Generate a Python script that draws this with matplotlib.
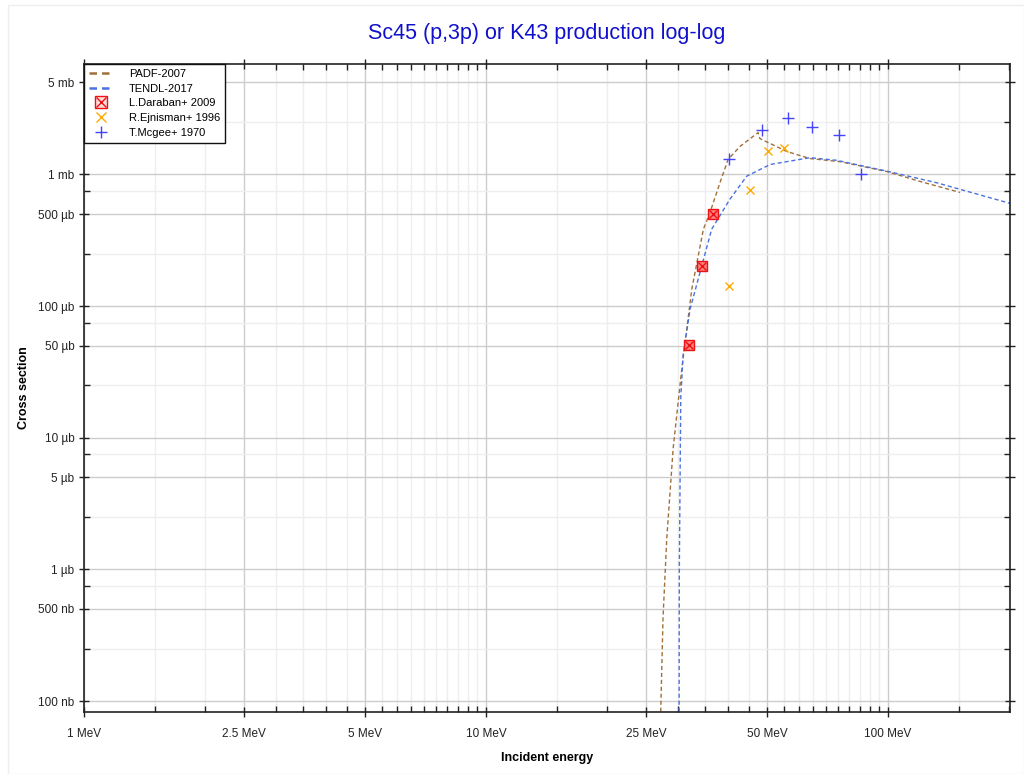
import matplotlib
matplotlib.use("Agg")
import matplotlib.pyplot as plt
from matplotlib.ticker import FixedLocator, FixedFormatter, NullFormatter
from matplotlib.legend_handler import HandlerTuple
from matplotlib.patches import Rectangle

plt.rcParams['font.family'] = ['Liberation Sans', 'DejaVu Sans']

# energies in MeV, cross sections in mb
padf_e = [27.0, 27.2, 27.55, 28.15, 29.2, 30.68, 31.57, 32.49, 34.72, 36.07, 38.2,
          40.0, 42.8, 47.5, 48.0, 56.1, 63.9, 76.0, 99.5, 120.0, 151.0]
padf_xs = [4e-5, 8.5e-5, 4.25e-4, 1.72e-3, 8.3e-3, 0.0333, 0.067, 0.1345, 0.383, 0.515, 0.87,
           1.30, 1.63, 2.08, 1.87, 1.49, 1.32, 1.25, 1.05, 0.885, 0.73]

tendl_e = [30.2, 30.25, 30.5, 30.9, 32.18, 34.4, 36.4, 40.4, 44.5, 50.9, 63.9, 74.5,
           99.2, 132.0, 201.0]
tendl_xs = [4e-5, 1e-3, 0.02, 0.042, 0.095, 0.202, 0.383, 0.647, 0.97, 1.19, 1.34, 1.28,
            1.06, 0.865, 0.603]

daraban_e = [32.05, 34.4, 36.6]
daraban_xs = [0.0507, 0.202, 0.497]

ejnisman_e = [40.2, 45.4, 50.4, 55.2]
ejnisman_xs = [0.141, 0.76, 1.50, 1.59]

mcgee_e = [40.2, 48.5, 56.5, 64.6, 75.5, 85.5]
mcgee_xs = [1.30, 2.17, 2.69, 2.30, 2.01, 1.00]

x_ticks = [1, 2.5, 5, 10, 25, 50, 100]
x_labels = ["1 MeV", "2.5 MeV", "5 MeV", "10 MeV", "25 MeV", "50 MeV", "100 MeV"]
y_ticks = [1e-4, 5e-4, 1e-3, 5e-3, 1e-2, 5e-2, 1e-1, 5e-1, 1, 5]
y_labels = ["100 nb", "500 nb", "1 µb", "5 µb", "10 µb", "50 µb", "100 µb", "500 µb",
            "1 mb", "5 mb"]

fig = plt.figure(figsize=(10.24, 7.74), dpi=100)
ax = fig.add_axes([84 / 1024, 1 - 712 / 774, 926 / 1024, 648 / 774])

# faint outer border
fig.patches.append(Rectangle((8 / 1024, 0), 1 - 8 / 1024, 1 - 5 / 774,
                             transform=fig.transFigure, fill=False,
                             edgecolor="#eeeeee", linewidth=1))

ax.set_xscale("log")
ax.set_yscale("log")
ax.set_xlim(1, 201)
ax.set_ylim(8.25e-5, 6.9)

# minor positions
x_minor = []
for d in [1, 10, 100]:
    for m in [1.5, 2, 3, 3.5, 4, 4.5, 5.5, 6, 6.5, 7, 7.5, 8, 8.5, 9, 9.5]:
        if d * m <= 201:
            x_minor.append(d * m)
y_minor = []
for d in [1e-5, 1e-4, 1e-3, 1e-2, 1e-1, 1]:
    for m in [2.5, 7.5]:
        y_minor.append(d * m)

ax.xaxis.set_major_locator(FixedLocator(x_ticks))
ax.xaxis.set_major_formatter(FixedFormatter(x_labels))
ax.xaxis.set_minor_locator(FixedLocator(x_minor))
ax.xaxis.set_minor_formatter(NullFormatter())
ax.yaxis.set_major_locator(FixedLocator(y_ticks))
ax.yaxis.set_major_formatter(FixedFormatter(y_labels))
ax.yaxis.set_minor_locator(FixedLocator(y_minor))
ax.yaxis.set_minor_formatter(NullFormatter())

ax.grid(True, which="major", color="#cccccc", linewidth=1)
ax.grid(True, which="minor", color="#eeeeee", linewidth=1)
ax.set_axisbelow(True)

ax.tick_params(which="major", direction="inout", length=7, width=1, labelsize=8.5,
               top=True, right=True, colors="#222222")
ax.tick_params(which="minor", direction="in", length=4, width=1,
               top=True, right=True, colors="#222222")
ax.tick_params(axis="x", which="major", pad=8)
for s in ax.spines.values():
    s.set_color("#222222")
    s.set_linewidth(1.2)

l1, = ax.plot(padf_e, padf_xs, linestyle=(0, (3, 2)), color="#a0703c", linewidth=1)
l2, = ax.plot(tendl_e, tendl_xs, linestyle=(0, (3, 2)), color="#4a72e0", linewidth=1)

d_sq, = ax.plot(daraban_e, daraban_xs, linestyle="none", marker="s", markersize=7,
                markerfacecolor="#ff8080", markeredgecolor="#ee1111", markeredgewidth=1)
d_x, = ax.plot(daraban_e, daraban_xs, linestyle="none", marker="x", markersize=6,
               color="#ee1111", markeredgewidth=1)
e_pts, = ax.plot(ejnisman_e, ejnisman_xs, linestyle="none", marker="x", markersize=6,
                 color="#ffaa00", markeredgewidth=1)
m_pts, = ax.plot(mcgee_e, mcgee_xs, linestyle="none", marker="+", markersize=8,
                 color="#4444ff", markeredgewidth=1)

# legend
leg_sq = plt.Line2D([], [], linestyle="none", marker="s", markersize=8,
                    markerfacecolor="#ffdddd", markeredgecolor="#ee1111")
leg_x = plt.Line2D([], [], linestyle="none", marker="x", markersize=7,
                   color="#ee1111", markeredgewidth=1)
leg_e = plt.Line2D([], [], linestyle="none", marker="x", markersize=7,
                   color="#ffaa00", markeredgewidth=1)
leg_m = plt.Line2D([], [], linestyle="none", marker="+", markersize=9,
                   color="#4444ff", markeredgewidth=1)
leg_l1 = plt.Line2D([], [], linestyle=(0, (3, 2)), color="#a0703c", linewidth=1.8)
leg_l2 = plt.Line2D([], [], linestyle=(0, (3, 2)), color="#4a72e0", linewidth=1.8)
leg = ax.legend([leg_l1, leg_l2, (leg_sq, leg_x), leg_e, leg_m],
                ["PADF-2007", "TENDL-2017", "L.Daraban+ 2009", "R.Ejnisman+ 1996",
                 "T.Mcgee+ 1970"],
                handler_map={tuple: HandlerTuple(ndivide=1, pad=0)},
                loc="upper left", bbox_to_anchor=(0, 1), fontsize=8, fancybox=False,
                framealpha=1, edgecolor="#111111", borderaxespad=0, handlelength=2.2,
                handletextpad=1.4, labelspacing=0.42, borderpad=0.45)
leg.get_frame().set_linewidth(1)

ax.set_title("Sc45 (p,3p) or K43 production log-log", color="#1010cc", fontsize=15.5,
             pad=18)
ax.set_xlabel("Incident energy", fontsize=9, fontweight="bold", labelpad=9)
ax.set_ylabel("Cross section", fontsize=9, fontweight="bold", labelpad=6)

fig.savefig("out.png", dpi=100)
